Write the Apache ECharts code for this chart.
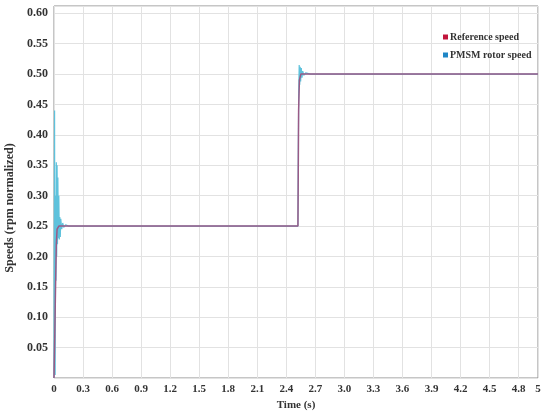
<!DOCTYPE html>
<html>
<head>
<meta charset="utf-8">
<script src="https://cdn.jsdelivr.net/npm/echarts@6/dist/echarts.min.js"></script>
<style>
  html, body { margin: 0; padding: 0; background: #fff; }
  #chart { width: 550px; height: 411px; }
</style>
</head>
<body>
<div id="chart"></div>
<script>
// reference speed (time s, normalized speed)
var refTime  = [0, 0.008, 0.016, 0.024, 0.032, 0.05, 2.52, 2.523, 2.527, 2.535, 2.55, 5];
var refSpeed = [0, 0.07, 0.15, 0.22, 0.245, 0.25, 0.25, 0.33, 0.44, 0.49, 0.5, 0.5];

// PMSM rotor speed
var rotorTime  = [0, 0.003, 0.006, 0.009, 0.012, 0.016, 0.02, 0.024, 0.028, 0.032, 0.036, 0.04,
                  0.045, 0.05, 0.055, 0.06, 0.065, 0.07, 0.08, 0.09, 0.1, 0.12, 0.15,
                  2.52, 2.524, 2.528, 2.533, 2.538, 2.543, 2.548, 2.555, 2.562, 2.57, 2.58, 2.6, 2.65, 5];
var rotorSpeed = [0, 0.2, 0.44, 0.06, 0.005, 0.3, 0.16, 0.355, 0.2, 0.35, 0.22, 0.33,
                  0.23, 0.3, 0.228, 0.265, 0.232, 0.262, 0.245, 0.255, 0.248, 0.252, 0.25,
                  0.25, 0.38, 0.47, 0.515, 0.482, 0.512, 0.488, 0.51, 0.494, 0.505, 0.498, 0.502, 0.5, 0.5];

function pairs(t, v) {
  var out = [];
  for (var i = 0; i < t.length; i++) out.push([t[i], v[i]]);
  return out;
}

var font = 'Liberation Serif';
var myChart = echarts.init(document.getElementById('chart'));

var option = {
  animation: false,
  grid: {
    left: 54, right: 12, top: 6, bottom: 33,
    outerBoundsMode: 'none',
    show: true, borderColor: '#8c8c8c', borderWidth: 1
  },
  legend: {
    orient: 'vertical',
    left: 438, top: 27,
    icon: 'rect', itemWidth: 5, itemHeight: 5, itemGap: 8,
    textStyle: { fontFamily: font, fontWeight: 'bold', fontSize: 10, color: '#333', padding: [0, 0, 0, -3] },
    data: ['Reference speed', 'PMSM rotor speed']
  },
  xAxis: {
    type: 'value',
    min: 0, max: 5, interval: 0.3,
    name: 'Time (s)',
    nameLocation: 'middle', nameGap: 20,
    nameTextStyle: { fontFamily: font, fontWeight: 'bold', fontSize: 11, color: '#333' },
    axisLine: { show: false },
    axisTick: { show: false },
    axisLabel: {
      fontFamily: font, fontWeight: 'bold', fontSize: 11, color: '#333', margin: 6,
      formatter: function (v) {
        if (v === 0 || v === 5) return String(v);
        return v.toFixed(1);
      }
    },
    splitLine: { show: true, lineStyle: { color: '#e2e2e2' } }
  },
  yAxis: {
    type: 'value',
    min: 0, max: 0.612, interval: 0.05,
    name: 'Speeds (rpm normalized)',
    nameLocation: 'middle', nameGap: 36, nameRotate: 90,
    nameTextStyle: { fontFamily: font, fontWeight: 'bold', fontSize: 12, color: '#333', padding: [0, 32, 0, 0] },
    axisLine: { show: false },
    axisTick: { show: false },
    axisLabel: {
      fontFamily: font, fontWeight: 'bold', fontSize: 12, color: '#333', margin: 6,
      showMinLabel: false, showMaxLabel: false,
      formatter: function (v) { return v.toFixed(2); }
    },
    splitLine: { show: true, lineStyle: { color: '#e2e2e2' } }
  },
  series: [
    {
      name: 'PMSM rotor speed',
      type: 'line',
      data: pairs(rotorTime, rotorSpeed),
      showSymbol: false,
      itemStyle: { color: '#1f86c6' },
      lineStyle: { color: '#5ec2dc', width: 1.2 },
      z: 2
    },
    {
      name: 'Reference speed',
      type: 'line',
      data: pairs(refTime, refSpeed),
      showSymbol: false,
      itemStyle: { color: '#c2163c' },
      lineStyle: { color: '#9a5a86', width: 1.5 },
      z: 3
    }
  ]
};

myChart.setOption(option);
</script>
</body>
</html>
